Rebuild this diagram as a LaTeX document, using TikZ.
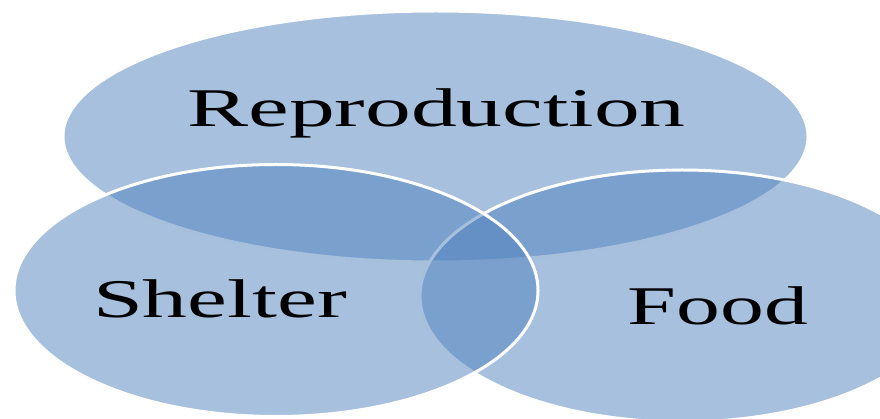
\documentclass[tikz,border=0pt]{standalone}
\usepackage{fontspec}
\setmainfont{Liberation Serif}
\definecolor{vennblue}{HTML}{4F81BD}
\begin{document}
\begin{tikzpicture}[x=1pt,y=-1pt,
  venn/.style={fill=vennblue,fill opacity=0.5,draw=white,line width=3pt},
  lbl/.style={anchor=base,inner sep=0pt,text=black,font=\fontsize{54.5}{60}\selectfont}]
\useasboundingbox (0,0) rectangle (880,419);
\clip (0,0) rectangle (880,419);
\path[venn] (435.5,136.5) ellipse [x radius=372.5, y radius=125.5];
\path[venn] (682,296) ellipse [x radius=262, y radius=126];
\path[venn] (276,290.5) ellipse [x radius=262, y radius=126];
\node[lbl] (repro) at (436.5,127) {\scalebox{1.68}[1]{Reproduction}};
\node[lbl] (shelter) at (220,318) {\scalebox{1.645}[1]{Shelter}};
\node[lbl] (food) at (718,324) {\scalebox{1.61}[1]{Food}};
\end{tikzpicture}
\end{document}
